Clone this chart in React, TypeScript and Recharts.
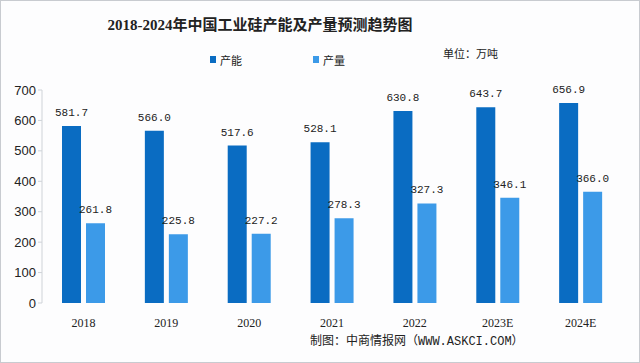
import React from 'react';
import { BarChart, Bar, XAxis, YAxis, LabelList } from 'recharts';

const years = ['2018', '2019', '2020', '2021', '2022', '2023E', '2024E'];
const capacity = [581.7, 566.0, 517.6, 528.1, 630.8, 643.7, 656.9];
const output = [261.8, 225.8, 227.2, 278.3, 327.3, 346.1, 366.0];
const yTicks = [0, 100, 200, 300, 400, 500, 600, 700];
const boundaryTicks = [0, 1, 2, 3, 4, 5, 6, 7];

const data = years.map((y, i) => ({ year: y, capacity: capacity[i], output: output[i] }));

const DARK = '#0a6cc2';
const LIGHT = '#3c9ae8';
const fmt = (v: number) => v.toFixed(1);

export default function App() {
  return (
    <div style={{ position: 'absolute', left: 0, top: 0, width: 640, height: 363, background: '#fdfdfe', overflow: 'hidden' }}>
      <div style={{ position: 'absolute', left: 0, top: 0, width: 638, height: 361, border: '1px solid #c8cbd0' }} />
      <div style={{ position: 'absolute', left: 0, width: 520, top: 13, textAlign: 'center', fontFamily: '"Liberation Serif", "Noto Sans CJK SC", serif', fontWeight: 'bold', fontSize: 15, color: '#222', lineHeight: '24px' }}>
        2018-2024年中国工业硅产能及产量预测趋势图
      </div>
      <div style={{ position: 'absolute', left: 443, top: 45, fontFamily: '"Noto Sans CJK SC", sans-serif', fontSize: 11, color: '#222', lineHeight: '16px' }}>
        单位：万吨
      </div>
      <div style={{ position: 'absolute', left: 210, top: 56, width: 6, height: 7, background: DARK }} />
      <div style={{ position: 'absolute', left: 220, top: 52, fontFamily: '"Noto Sans CJK SC", sans-serif', fontSize: 11, color: '#222', lineHeight: '16px' }}>产能</div>
      <div style={{ position: 'absolute', left: 313, top: 56, width: 6, height: 7, background: LIGHT }} />
      <div style={{ position: 'absolute', left: 323, top: 52, fontFamily: '"Noto Sans CJK SC", sans-serif', fontSize: 11, color: '#222', lineHeight: '16px' }}>产量</div>
      <div style={{ position: 'absolute', left: 310, top: 334, fontFamily: '"Liberation Mono", "Noto Sans CJK SC", monospace', fontSize: 12, color: '#222', lineHeight: '16px', whiteSpace: 'nowrap' }}>
        制图：中商情报网（WWW.ASKCI.COM）
      </div>
      <div style={{ position: 'absolute', left: 0, top: 0 }}>
        <BarChart width={640} height={363} data={data} margin={{ top: 90, right: 18, bottom: 30, left: 0 }} barSize={19} barGap={5}>
          <XAxis
            xAxisId="bounds"
            type="number"
            domain={[0, 7]}
            ticks={boundaryTicks}
            height={0}
            axisLine={{ stroke: '#cfd3d8' }}
            tickLine={{ stroke: '#cfd3d8' }}
            tickSize={4}
            tick={false}
          />
          <XAxis
            dataKey="year"
            axisLine={false}
            tickLine={false}
            tick={{ fill: '#222', fontSize: 12, fontFamily: '"Liberation Serif", serif' }}
            tickMargin={9}
            height={30}
          />
          <YAxis
            domain={[0, 700]}
            ticks={yTicks}
            width={42}
            axisLine={{ stroke: '#cfd3d8' }}
            tickLine={{ stroke: '#cfd3d8' }}
            tickSize={4}
            tick={{ fill: '#222', fontSize: 13, fontFamily: '"Liberation Sans", Arial, sans-serif' }}
            interval={0}
          />
          <Bar dataKey="capacity" fill={DARK} isAnimationActive={false}>
            <LabelList dataKey="capacity" position="top" offset={10} formatter={fmt} style={{ fill: '#222', fontSize: 11, fontFamily: '"Liberation Mono", monospace' }} />
          </Bar>
          <Bar dataKey="output" fill={LIGHT} isAnimationActive={false}>
            <LabelList dataKey="output" position="top" offset={10} formatter={fmt} style={{ fill: '#222', fontSize: 11, fontFamily: '"Liberation Mono", monospace' }} />
          </Bar>
        </BarChart>
      </div>
    </div>
  );
}
